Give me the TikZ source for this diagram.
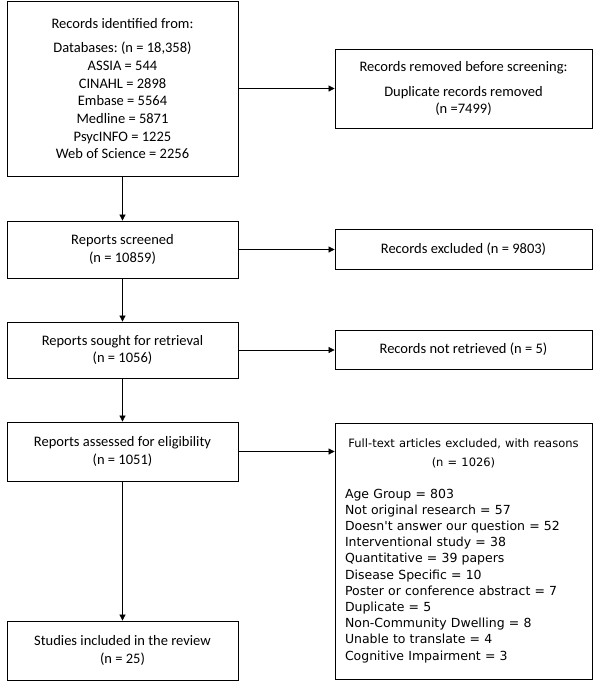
\documentclass[tikz,border=0pt]{standalone}
\usepackage{fontspec}
\setmainfont{Carlito}
\newfontfamily\verd{DejaVu Sans}
\usetikzlibrary{arrows.meta}

\tikzset{
  caja/.style={draw, line width=0.8pt, align=center, inner sep=0pt,
    font=\fontsize{14.5}{17.7}\selectfont\frenchspacing},
  izq/.style={caja, minimum width=231pt},
  der/.style={caja, minimum width=257pt},
  flecha/.style={-{Triangle[length=6pt,width=6pt]}, line width=0.7pt}
}

\begin{document}
\begin{tikzpicture}[x=1pt,y=-1pt]
        \useasboundingbox (0,0) rectangle (600,681);
        %Columna izquierda
        \begin{scope}
            \node[izq, minimum height=175pt] (ident) at (122.5,88.5)
              {Records identified from:\\[7pt]
               Databases: (n = 18,358)\\ ASSIA = 544\\ CINAHL = 2898\\
               Embase = 5564\\ Medline = 5871\\ PsycINFO = 1225\\
               Web of Science = 2256};
            \node[izq, minimum height=57pt] (screened) at (122.5,249.5)
              {Reports screened\\ (n = 10859)};
            \node[izq, minimum height=56pt] (sought) at (122.5,350)
              {Reports sought for retrieval\\ (n = 1056)};
            \node[izq, minimum height=59pt] (assessed) at (122.5,451.5)
              {Reports assessed for eligibility\\ (n = 1051)};
            \node[izq, minimum height=59pt] (included) at (122.5,650.5)
              {Studies included in the review\\ (n = 25)};
        \end{scope}
        %Columna derecha
        \begin{scope}
            \node[der, minimum height=79pt] (removed) at (463.5,88.5)
              {Records removed before screening:\\[7pt]
               Duplicate records removed\\ (n =7499)};
            \node[der, minimum height=40pt] (excluded) at (463.5,249)
              {Records excluded (n = 9803)};
            \node[der, minimum height=39pt] (notret) at (463.5,349.5)
              {Records not retrieved (n = 5)};
            \node[der, minimum height=256pt, align=left, inner xsep=10pt,
                  text width=237pt, font=\verd\fontsize{12.5}{16.2}\selectfont] (fulltext) at (463.5,551)
              {{\centering\fontsize{11.5}{19}\selectfont
                Full-text articles excluded, with reasons\\ (n = 1026)\par}
               \vspace{15pt}
               Age Group = 803\\
               Not original research = 57\\
               Doesn't answer our question = 52\\
               Interventional study = 38\\
               Quantitative = 39 papers\\
               Disease Specific = 10\\
               Poster or conference abstract = 7\\
               Duplicate = 5\\
               Non-Community Dwelling = 8\\
               Unable to translate = 4\\
               Cognitive Impairment = 3};
        \end{scope}
        %Flechas
        \foreach \a/\b in {ident/screened, screened/sought, sought/assessed, assessed/included}
        \draw[flecha] (\a) -- (\b);
        \foreach \a/\b in {ident/removed, screened/excluded, sought/notret, assessed/fulltext}
        \draw[flecha] (\a.east) -- (\a.east -| \b.west);
    \end{tikzpicture}
\end{document}
